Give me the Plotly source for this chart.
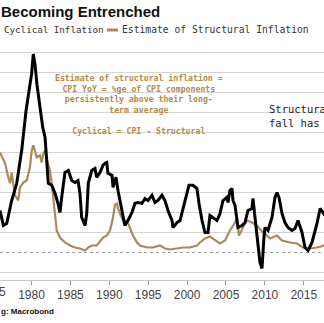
import plotly.graph_objects as go

# ---- data ----
cyc_years = [1975.95, 1976.38, 1976.81, 1977.45, 1978.1, 1978.74, 1979.3, 1979.8, 1980.0, 1980.23,
             1980.45, 1980.7, 1981.1, 1981.44, 1981.74, 1981.95, 1982.16, 1982.6, 1983.02, 1983.4,
             1983.66, 1983.88, 1984.3, 1984.73, 1985.17, 1985.6, 1985.98, 1986.23, 1986.45, 1986.88,
             1987.1, 1987.3, 1987.74, 1988.16, 1988.38, 1988.8, 1989.19, 1989.45, 1989.67, 1989.83,
             1990.35, 1990.48, 1990.86, 1991.12, 1991.63, 1992.0, 1992.4, 1992.92, 1993.3, 1993.69,
             1994.2, 1994.59, 1994.97, 1995.49, 1995.87, 1996.26, 1996.77, 1997.16, 1997.54, 1998.06,
             1998.19, 1998.7, 1999.09, 1999.47, 1999.99, 2000.24, 2000.76, 2001.27, 2001.53, 2001.92,
             2002.3, 2002.69, 2002.94, 2003.33, 2003.84, 2004.23, 2004.61, 2005.13, 2005.26, 2005.51,
             2005.77, 2005.9, 2006.16, 2006.54, 2007.06, 2007.44, 2007.83, 2008.34, 2008.47, 2008.73,
             2008.98, 2009.11, 2009.37, 2009.63, 2009.76, 2009.88, 2010.01, 2010.4, 2010.91, 2011.3,
             2011.56, 2011.81, 2012.2, 2012.58, 2012.97, 2013.48, 2013.87, 2014.26, 2014.77, 2015.16,
             2015.55, 2016.06, 2016.7, 2017.1, 2017.48, 2017.7]
cyc_values = [2.1, 1.35, 1.45, 2.6, 3.46, 5.11, 7.1, 8.5, 8.9, 9.92,
              9.4, 8.4, 7.27, 6.27, 5.76, 4.36, 3.46, 3.36, 2.96, 2.46,
              2.0, 2.76, 4.0, 4.1, 3.6, 3.5, 3.6, 2.96, 1.75, 1.35,
              1.95, 3.46, 4.1, 4.2, 3.76, 4.0, 4.36, 4.46, 4.5, 3.96,
              3.86, 3.26, 3.76, 3.1, 2.1, 1.35, 1.6, 2.0, 2.46, 2.5,
              2.46, 2.7, 2.6, 2.86, 2.5, 2.6, 2.86, 2.6, 2.1, 1.6,
              1.25, 1.5, 1.6, 2.2, 2.96, 3.36, 3.36, 3.2, 2.46, 1.6,
              1.0, 1.0, 1.85, 1.75, 1.6, 1.95, 2.6, 2.76, 2.5, 3.1,
              3.2, 2.6, 2.36, 1.25, 1.35, 1.5, 2.1, 2.2, 2.7, 1.75,
              0.95, 0.25, -0.5, -0.8, 0.35, 0.75, 1.25, 1.1, 1.75, 2.76,
              3.0, 2.76, 1.95, 1.5, 1.25, 1.1, 1.2, 1.6, 1.0, 0.25,
              0.1, 0.5, 1.45, 2.2, 2.0, 1.85]

str_years = [1975.95, 1976.6, 1977.02, 1977.24, 1977.45, 1977.66, 1977.88, 1978.3, 1978.52, 1978.95,
             1979.38, 1979.8, 1980.03, 1980.23, 1980.67, 1981.09, 1981.3, 1981.52, 1981.74, 1982.0,
             1982.38, 1982.6, 1982.8, 1983.02, 1983.24, 1983.66, 1984.3, 1984.95, 1985.6, 1986.23,
             1986.88, 1987.3, 1987.74, 1988.38, 1988.8, 1989.19, 1989.7, 1990.09, 1990.48, 1990.73,
             1990.99, 1991.12, 1991.38, 1991.76, 1992.27, 1992.66, 1993.05, 1993.56, 1993.95, 1994.85,
             1995.62, 1996.52, 1997.16, 1997.8, 1998.7, 1999.47, 2000.37, 2001.27, 2001.66, 2002.3,
             2002.94, 2003.59, 2004.23, 2004.88, 2005.51, 2006.16, 2006.41, 2006.67, 2007.06, 2007.44,
             2007.7, 2008.34, 2009.1, 2009.76, 2010.27, 2010.66, 2011.56, 2012.2, 2013.23, 2014.13,
             2014.9, 2015.8, 2016.7, 2017.48, 2017.7]
str_values = [5.0, 4.46, 3.76, 3.46, 4.0, 3.46, 2.86, 2.6, 3.26, 3.5,
              3.6, 4.26, 5.1, 5.36, 4.76, 4.86, 4.5, 4.96, 5.1, 4.6,
              4.1, 3.46, 2.6, 1.75, 1.1, 0.75, 0.5, 0.35, 0.25, 0.2,
              0.1, 0.25, 0.35, 0.35, 0.55, 0.75, 0.85, 1.1, 1.75, 2.4,
              2.45, 2.2, 1.95, 1.6, 1.6, 1.25, 0.85, 0.5, 0.35, 0.25,
              0.25, 0.35, 0.2, 0.15, 0.2, 0.25, 0.25, 0.35, 0.5, 0.7,
              0.8, 0.6, 0.45, 0.6, 1.1, 1.5, 1.7, 0.85, 1.2, 1.45,
              1.6, 1.5, 1.3, 1.0, 0.85, 0.7, 0.85, 0.6, 0.5, 0.45,
              0.25, 0.2, 0.25, 0.35, 0.35]

tick_years = [1980, 1985, 1990, 1995, 2000, 2005, 2010, 2015]
grid_vals = [-1, 1, 2, 3, 4, 5, 6, 7, 8, 9, 10]

BROWN = "#a98a5c"
TXT_GOLD = "#b58a45"

W, H = 324, 323
TOP, BOT = 40, 280  # plot area in pixels


def px(x):
    return x / W


def py(y):
    return (BOT - y) / (BOT - TOP)


fig = go.Figure()
fig.add_trace(go.Scatter(x=str_years, y=str_values, mode="lines",
                         line=dict(color=BROWN, width=2.2), hoverinfo="skip"))
fig.add_trace(go.Scatter(x=cyc_years, y=cyc_values, mode="lines",
                         line=dict(color="#000000", width=3), hoverinfo="skip"))

anns = []
anns.append(dict(text="<b>Becoming Entrenched</b>", x=px(-1), y=py(12), xanchor="left",
                 yanchor="middle", font=dict(family="Liberation Sans", size=15, color="#111")))
anns.append(dict(text="Cyclical Inflation", x=px(2), y=py(30), xanchor="left", yanchor="middle",
                 font=dict(family="DejaVu Sans Mono", size=9.2, color="#333")))
anns.append(dict(text="Estimate of Structural Inflation", x=px(120), y=py(30), xanchor="left",
                 yanchor="middle", font=dict(family="DejaVu Sans Mono", size=9.7, color="#333")))
anns.append(dict(text="<b>Estimate of structural inflation =<br>CPI YoY = %ge of CPI components<br>"
                      "persistently above their long-<br>term average<br><br>Cyclical = CPI - Structural</b>",
                 x=px(139), y=py(71), xanchor="center", yanchor="top", align="center",
                 font=dict(family="DejaVu Sans Mono", size=8.2, color=TXT_GOLD)))
anns.append(dict(text="Structural<br>fall has", x=px(267), y=py(101), xanchor="left", yanchor="top",
                 align="left", font=dict(family="DejaVu Sans Mono", size=10.5, color="#222")))
anns.append(dict(text="<b>g: Macrobond</b>", x=px(-1), y=py(311), xanchor="left", yanchor="middle",
                 font=dict(family="Liberation Sans", size=8, color="#111")))
anns.append(dict(text="1975", x=px(-7.4), y=py(292), xanchor="center", yanchor="middle",
                 font=dict(family="Liberation Sans", size=12, color="#444")))
for a in anns:
    a.update(xref="paper", yref="paper", showarrow=False)

shapes = [dict(type="line", xref="paper", yref="y", x0=0, x1=1, y0=v, y1=v,
               line=dict(color="#d4d4d4", width=1), layer="below") for v in grid_vals]
shapes += [
    dict(type="line", xref="paper", yref="paper", x0=px(107), x1=px(118),
         y0=py(30), y1=py(30), line=dict(color=BROWN, width=3)),
    dict(type="line", xref="paper", yref="y", x0=0, x1=1, y0=0, y1=0,
         line=dict(color="#9aa0aa", width=1, dash="dot"), layer="below"),
]

fig.update_layout(
    width=W, height=H,
    margin=dict(l=0, r=0, t=TOP, b=H - BOT),
    paper_bgcolor="white", plot_bgcolor="white",
    showlegend=False,
    annotations=anns,
    shapes=shapes,
)
fig.update_xaxes(range=[1975.95, 2017.6], tickvals=tick_years, ticktext=[str(t) for t in tick_years],
                 showgrid=False, zeroline=False, showline=True, linecolor="#c8c8c8", linewidth=1,
                 ticks="outside", ticklen=4, tickcolor="#999",
                 tickfont=dict(family="Liberation Sans", size=12, color="#444"))
# 20 px per unit so that the 1px grid lines sit on pixel centres
fig.update_yaxes(range=[-1.375, 10.625], showticklabels=False, showgrid=False,
                 zeroline=False, showline=False)

fig.write_html("out.html")
